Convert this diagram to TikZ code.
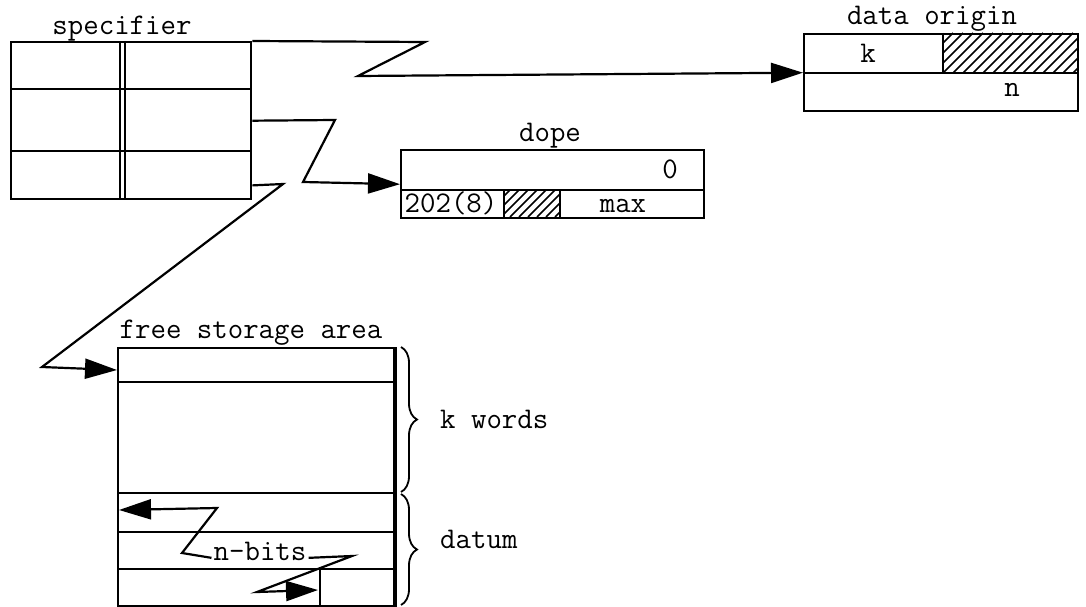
\documentclass[tikz,border=0pt]{standalone}
\usepackage{tikz}
\usetikzlibrary{arrows.meta,decorations.pathreplacing,calc}

\begin{document}
\begin{tikzpicture}[
  x=1pt, y=-1pt, line width=2.4pt,
  cell/.style={draw, line width=2.4pt, inner sep=0pt, anchor=north west},
  lbl/.style={font=\fontsize{30}{34}\selectfont\ttfamily, inner sep=1pt, anchor=base},
  ptr/.style={line width=2.2pt, -{Triangle[length=32pt,width=20pt]}},
  hatch/.style={line width=1.6pt},
  curly/.style={decorate, decoration={brace, amplitude=16pt}, line width=1.8pt}
]
  \useasboundingbox (0,0) rectangle (1086,607);

  % specifier
  \node[cell, minimum width=240pt, minimum height=157pt] (spec) at (10,41) {};
  \draw (10,89) -- (250,89) (10,151) -- (250,151);
  \draw[line width=1.8pt] (120,41) -- (120,198) (125,41) -- (125,198);
  \node[lbl] at (122,35) {specifier};

  % data origin
  \node[cell, minimum width=274pt, minimum height=77pt] (orig) at (803,33) {};
  \draw (803,73) -- (1077,73) (943,33) -- (943,73);
  \begin{scope}
    \clip (943,33) rectangle (1077,73);
    \foreach \i in {0,10,...,180} \draw[hatch] (903+\i,73) -- ++(40,-40);
  \end{scope}
  \node[lbl] at (932,25) {data origin};
  \node[lbl] at (868,63) {k};
  \node[lbl] at (1012,97) {n};

  % dope
  \node[cell, minimum width=303pt, minimum height=68pt] (dope) at (400,149) {};
  \draw (400,190) -- (703,190) (504,190) -- (504,217) (560,190) -- (560,217);
  \begin{scope}
    \clip (504,190) rectangle (560,217);
    \foreach \i in {0,9,...,90} \draw[hatch] (474+\i,217) -- ++(30,-30);
  \end{scope}
  \node[lbl] at (550,142) {dope};
  \node[lbl] at (670,178) {0};
  \node[lbl] at (451,212) {202(8)};
  \node[lbl] at (623,212) {max};

  % free storage area
  \node[cell, minimum width=278pt, minimum height=258pt] (free) at (117,347) {};
  \foreach \y in {382,493,532,569} \draw (117,\y) -- (395,\y);
  \draw[line width=3.6pt] (395,347) -- (395,605);
  \draw (320,569) -- (320,605);
  \node[lbl] at (251,338) {free storage area};
  \draw[curly] (401,347) -- (401,492);
  \draw[curly] (401,494) -- (401,605);
  \node[lbl, anchor=base west] at (438,428) {k words};
  \node[lbl, anchor=base west] at (438,548) {datum};
  \node[lbl] (nb) at (260,560) {n-bits};
  \coordinate (dl) at (119,510);
  \coordinate (dr) at (318,590);

  % pointers
  \draw[ptr] (spec.north east) -- (425,42) -- (358,76) -- (orig.west);
  \draw[ptr] (spec.east) -- (335,120) -- (303,182) -- (dope.west);
  \draw[ptr] ([yshift=15pt]spec.south east) -- (283,184) -- (42,367) -- ([yshift=-23pt]free.north west);
  \draw[ptr] (nb.mid west) -- (182,553) -- (217,508) -- (dl);
  \draw[ptr] (nb.mid east) -- (352,556) -- (257,592) -- (dr);
\end{tikzpicture}
\end{document}
